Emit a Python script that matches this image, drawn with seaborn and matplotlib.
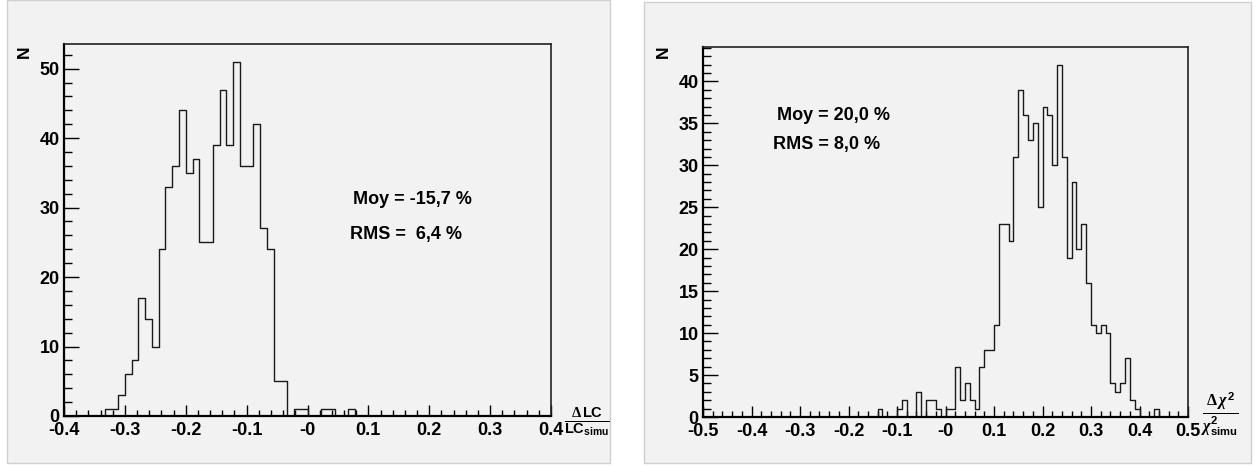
import numpy as np
import pandas as pd
import matplotlib
matplotlib.use("Agg")
import matplotlib.pyplot as plt
from matplotlib.patches import Rectangle
from matplotlib.ticker import FixedLocator, MultipleLocator
import seaborn as sns

# ---------------- data ----------------
# Left histogram: 72 bins on [-0.4, 0.4]
lc_range = (-0.4, 0.4)
lc_nbins = 72
lc_counts = [0, 0, 0, 0, 0, 0, 1, 1, 3, 6, 8, 17, 14, 10, 24, 33, 36, 44,
             35, 37, 25, 25, 39, 47, 39, 51, 36, 36, 42, 27, 24, 5, 5, 0,
             1, 1, 0, 0, 1, 1, 0, 0, 1, 0, 0, 0, 0, 0, 0, 0, 0, 0, 0, 0,
             0, 0, 0, 0, 0, 0, 0, 0, 0, 0, 0, 0, 0, 0, 0, 0, 0, 0]
lc_xticks = [-0.4, -0.3, -0.2, -0.1, 0.0, 0.1, 0.2, 0.3, 0.4]
lc_xticklabels = ["-0.4", "-0.3", "-0.2", "-0.1", "-0", "0.1", "0.2", "0.3", "0.4"]
lc_yticks = [0, 10, 20, 30, 40, 50]
lc_stats = ["Moy = -15,7 %", "RMS =  6,4 %"]

# Right histogram: 100 bins on [-0.5, 0.5]
chi_range = (-0.5, 0.5)
chi_nbins = 100
chi_nonzero = {36: 1, 40: 1, 41: 2, 44: 3, 46: 2, 47: 2, 48: 1, 50: 1, 51: 1,
               52: 6, 53: 2, 54: 4, 55: 2, 56: 1, 57: 6, 58: 8, 59: 8, 60: 11,
               61: 23, 62: 23, 63: 21, 64: 31, 65: 39, 66: 36, 67: 33, 68: 35,
               69: 25, 70: 37, 71: 36, 72: 30, 73: 42, 74: 31, 75: 19, 76: 28,
               77: 20, 78: 23, 79: 16, 80: 11, 81: 10, 82: 11, 83: 10, 84: 4,
               85: 3, 86: 4, 87: 7, 88: 2, 89: 1, 93: 1}
chi_counts = [chi_nonzero.get(i, 0) for i in range(chi_nbins)]
chi_xticks = [-0.5, -0.4, -0.3, -0.2, -0.1, 0.0, 0.1, 0.2, 0.3, 0.4, 0.5]
chi_xticklabels = ["-0.5", "-0.4", "-0.3", "-0.2", "-0.1", "-0", "0.1", "0.2",
                   "0.3", "0.4", "0.5"]
chi_yticks = [0, 5, 10, 15, 20, 25, 30, 35, 40]
chi_stats = ["Moy = 20,0 %", "RMS = 8,0 %"]

# ---------------- style ----------------
sns.set_style("ticks")
plt.rcParams["font.family"] = ["Liberation Sans", "DejaVu Sans"]
plt.rcParams["font.weight"] = "bold"
plt.rcParams["text.color"] = "black"
plt.rcParams["xtick.color"] = "black"
plt.rcParams["ytick.color"] = "black"
plt.rcParams["mathtext.fontset"] = "custom"
plt.rcParams["mathtext.rm"] = "Liberation Sans:bold"
plt.rcParams["mathtext.bf"] = "Liberation Sans:bold"
plt.rcParams["mathtext.it"] = "Liberation Serif:italic"
plt.rcParams["mathtext.sf"] = "Liberation Serif"

W, H = 1259, 466
fig = plt.figure(figsize=(W / 100, H / 100), dpi=100, facecolor="white")

def fx(px):
    return px / W

def fy(py):
    return 1 - py / H

panel_col = "#f2f2f2"
# background pads
fig.patches.append(Rectangle((fx(7), fy(463)), fx(610) - fx(7), fy(0) - fy(463),
                             transform=fig.transFigure, facecolor=panel_col,
                             edgecolor="#cfcfcf", linewidth=1.0, zorder=-5))
fig.patches.append(Rectangle((fx(644), fy(463)), fx(1251) - fx(644), fy(2) - fy(463),
                             transform=fig.transFigure, facecolor=panel_col,
                             edgecolor="#cfcfcf", linewidth=1.0, zorder=-5))

TICK_FS = 13

def make_panel(rect, counts, rng, nbins, xticks, xlabels, yticks, ymax,
               yminor):
    ax = fig.add_axes(rect)
    ax.set_zorder(2)
    ax.set_facecolor(panel_col)
    edges = [float(e) for e in np.linspace(rng[0], rng[1], nbins + 1)]
    centers = [0.5 * (edges[i] + edges[i + 1]) for i in range(nbins)]
    df = pd.DataFrame({"x": centers, "n": counts})
    sns.histplot(data=df, x="x", weights="n", bins=edges, element="step",
                 fill=False, color="#1a1a1a", linewidth=1.0, ax=ax)
    ax.set_xlim(rng)
    ax.set_ylim(0, ymax)
    ax.set_xlabel("")
    ax.set_ylabel("")
    ax.xaxis.set_major_locator(FixedLocator(xticks))
    ax.set_xticklabels(xlabels)
    ax.xaxis.set_minor_locator(MultipleLocator(0.02))
    ax.yaxis.set_major_locator(FixedLocator(yticks))
    ax.yaxis.set_minor_locator(MultipleLocator(yminor))
    ax.tick_params(axis="x", which="major", direction="in", length=8,
                   width=1.0, pad=4, labelsize=TICK_FS, top=False,
                   color="black", labelcolor="black")
    ax.tick_params(axis="x", which="minor", direction="in", length=4.3,
                   width=1.0, top=False, color="black")
    ax.tick_params(axis="y", which="major", direction="in", length=11,
                   width=1.0, pad=3, labelsize=TICK_FS, right=False,
                   color="black", labelcolor="black")
    ax.tick_params(axis="y", which="minor", direction="in", length=5.5,
                   width=1.0, right=False, color="black")
    for lab in ax.get_xticklabels() + ax.get_yticklabels():
        lab.set_fontweight("bold")
    for s in ["left", "bottom"]:
        ax.spines[s].set_linewidth(1.6)
        ax.spines[s].set_color("black")
    for s in ["top", "right"]:
        ax.spines[s].set_visible(True)
        ax.spines[s].set_linewidth(1.2)
        ax.spines[s].set_color("#222222")
    return ax

ax1 = make_panel([fx(64), fy(416), fx(551) - fx(64), fy(44) - fy(416)],
                 lc_counts, lc_range, lc_nbins, lc_xticks, lc_xticklabels,
                 lc_yticks, 53.55, 2)
ax2 = make_panel([fx(703), fy(417), fx(1188) - fx(703), fy(47) - fy(417)],
                 chi_counts, chi_range, chi_nbins, chi_xticks, chi_xticklabels,
                 chi_yticks, 44.1, 1)

# y axis titles
fig.text(fx(24), fy(52), "N", rotation=90, ha="center", va="center",
         fontsize=12.5, fontweight="bold", zorder=5)
fig.text(fx(663), fy(52), "N", rotation=90, ha="center", va="center",
         fontsize=12.5, fontweight="bold", zorder=5)

# x axis titles (fractions)
fig.text(fx(587), fy(422), r"$\frac{\mathsf{\Delta}\,\mathbf{LC}}{\mathbf{LC}_{\mathbf{simu}}}$",
         ha="center", va="center", fontsize=15, zorder=5)
fig.text(fx(1220), fy(414), r"$\frac{\mathsf{\Delta}\,\chi^{2}}{\chi^{2}_{\mathbf{simu}}}$",
         ha="center", va="center", fontsize=16.5, zorder=5)

# statistics text
STAT_FS = 13
fig.text(fx(353), fy(200), lc_stats[0], ha="left", va="center",
         fontsize=STAT_FS, fontweight="bold", zorder=5)
fig.text(fx(350), fy(234), lc_stats[1], ha="left", va="center",
         fontsize=STAT_FS, fontweight="bold", zorder=5)
fig.text(fx(777), fy(116), chi_stats[0], ha="left", va="center",
         fontsize=STAT_FS, fontweight="bold", zorder=5)
fig.text(fx(773), fy(145), chi_stats[1], ha="left", va="center",
         fontsize=STAT_FS, fontweight="bold", zorder=5)

fig.savefig("out.png", dpi=100, facecolor="white")
